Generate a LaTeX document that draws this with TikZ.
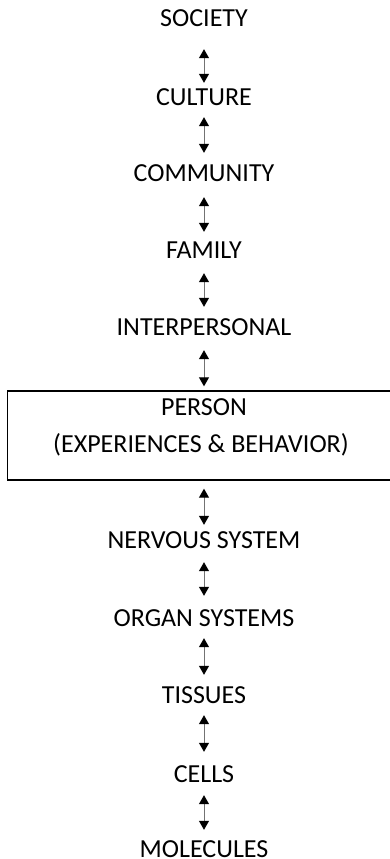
\documentclass[tikz,border=0pt]{standalone}
\usepackage{fontspec}
\setmainfont{Carlito}
\usetikzlibrary{arrows.meta}
\begin{document}
\begin{tikzpicture}[x=1pt,y=-1pt,
  lbl/.style={inner sep=0pt,anchor=base,text height=16pt,text depth=0pt,font=\fontsize{26}{31}\selectfont},
  dbl/.style={draw=black!55,line width=1pt,{Triangle[width=10pt,length=9pt,color=black]}-{Triangle[width=10pt,length=9pt,color=black]}},
  boxstyle/.style={draw=black,line width=1.4pt,inner sep=0pt,minimum width=387.5pt,minimum height=89pt}]
\useasboundingbox (0,0) rectangle (390,859);
\node[lbl] (soc) at (204,27) {SOCIETY};
\node[lbl] (cul) at (204,105) {CULTURE};
\node[lbl] (com) at (204,181) {COMMUNITY};
\node[lbl] (fam) at (204,258) {FAMILY};
\node[lbl] (int) at (204,335) {INTERPERSONAL};
\node[boxstyle] (per) at (201.25,435.5) {};
\node[lbl] (p1) at (204,415) {PERSON};
\node[lbl] (p2) at (201,452) {(EXPERIENCES \& BEHAVIOR)};
\node[lbl] (ner) at (204,548) {NERVOUS SYSTEM};
\node[lbl] (org) at (204,626) {ORGAN SYSTEMS};
\node[lbl] (tis) at (204,703) {TISSUES};
\node[lbl] (cel) at (204,782) {CELLS};
\node[lbl] (mol) at (204,857) {MOLECULES};
\draw[dbl,shorten <=22pt,shorten >=6pt] (soc.south) -- (cul.north);
\draw[dbl,shorten <=12pt,shorten >=12pt] (cul.south) -- (com.north);
\draw[dbl,shorten <=16pt,shorten >=10pt] (com.south) -- (fam.north);
\draw[dbl,shorten <=15pt,shorten >=12pt] (fam.south) -- (int.north);
\draw[dbl,shorten <=15pt,shorten >=4pt] (int.south) -- (int.south |- per.north);
\draw[dbl,shorten <=8pt,shorten >=7pt] (ner.north |- per.south) -- (ner.north);
\draw[dbl,shorten <=14pt,shorten >=14pt] (ner.south) -- (org.north);
\draw[dbl,shorten <=12pt,shorten >=12pt] (org.south) -- (tis.north);
\draw[dbl,shorten <=12pt,shorten >=14pt] (tis.south) -- (cel.north);
\draw[dbl,shorten <=13pt,shorten >=11pt] (cel.south) -- (mol.north);
\end{tikzpicture}
\end{document}
